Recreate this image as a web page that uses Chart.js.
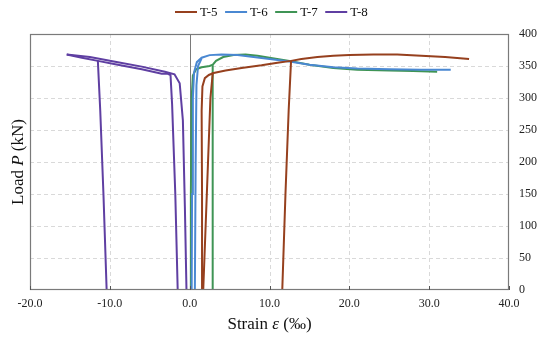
<!DOCTYPE html>
<html>
<head>
<meta charset="utf-8">
<script src="https://cdn.jsdelivr.net/npm/chart.js@4.4.1/dist/chart.umd.min.js"></script>
<style>
  html, body { margin: 0; padding: 0; background: #fff; }
  #wrap { width: 550px; height: 339px; }
</style>
</head>
<body>
<div id="wrap"><canvas id="c" width="550" height="339"></canvas></div>
<script>
// ---- Tick labels ----
const xTicks = [-20, -10, 0, 10, 20, 30, 40];
const yTicks = [0, 50, 100, 150, 200, 250, 300, 350, 400];

// ---- Series (strain in ‰, load in kN) ----
const seriesNames = ['T-5', 'T-6', 'T-7', 'T-8'];

// T-5 (three gauge traces)
const t5aStrain = [1.66, 1.55, 1.5, 1.6, 1.9, 2.4, 3.0, 4.5, 6.5, 9.0, 11.0, 12.7, 14, 16, 18, 20, 23, 26, 29, 32, 35];
const t5aLoad   = [0, 150, 280, 318, 331, 336, 339, 343, 347, 351, 355, 358, 361, 364, 366, 367, 368, 368, 366, 364, 361];
const t5bStrain = [1.7, 2.3, 2.6, 2.9];
const t5bLoad   = [0, 200, 300, 340];
const t5cStrain = [11.6, 12.0, 12.4, 12.7];
const t5cLoad   = [0, 150, 280, 358];

// T-6
const t6aStrain = [0.25, 0.3, 0.4, 0.55, 0.9, 1.5, 2.5, 4, 6, 8, 10, 12.5, 15, 18, 21, 25, 29, 32.7];
const t6aLoad   = [0, 150, 300, 340, 356, 363, 367, 368, 367, 364, 361, 357, 352, 348, 346, 345, 344, 344];
const t6bStrain = [0.65, 0.75, 0.85, 1.05, 1.5];
const t6bLoad   = [0, 200, 320, 350, 362];

// T-7
const t7aStrain = [0.1, 0.15, 0.25, 0.4, 0.8, 1.5, 2.5, 2.9, 3.3, 4.2, 5.5, 7, 8.5, 10, 12.5, 15, 18, 21, 25, 28, 31];
const t7aLoad   = [0, 150, 300, 335, 345, 348, 350, 352, 358, 364, 367, 368, 366, 363, 358, 352, 347, 344, 343, 342, 341];
const t7bStrain = [2.8, 2.85, 2.9, 2.9];
const t7bLoad   = [0, 200, 320, 351];

// T-8
const t8aStrain = [-0.4, -0.6, -0.85, -1.25, -1.9, -3.1, -6, -9, -12.5, -15.4];
const t8aLoad   = [0, 130, 265, 323, 337, 341, 349, 356, 364, 368];
const t8bStrain = [-1.5, -1.8, -2.2, -2.4, -2.8, -3.5, -6, -9, -11.5, -13.5, -15.4];
const t8bLoad   = [0, 150, 290, 336, 338, 338, 345, 352, 358, 363, 368];
const t8cStrain = [-10.4, -10.8, -11.2, -11.5];
const t8cLoad   = [0, 150, 280, 358];

const colors = ['#96401E', '#4A88D2', '#3F9455', '#5F3FA2'];

function pts(xs, ys) { return xs.map((x, i) => ({ x: x, y: ys[i] })); }

const traces = [
  [0, t5aStrain, t5aLoad], [0, t5bStrain, t5bLoad], [0, t5cStrain, t5cLoad],
  [1, t6aStrain, t6aLoad], [1, t6bStrain, t6bLoad],
  [2, t7aStrain, t7aLoad], [2, t7bStrain, t7bLoad],
  [3, t8aStrain, t8aLoad], [3, t8bStrain, t8bLoad], [3, t8cStrain, t8cLoad]
];

const datasets = traces.map(([s, xs, ys]) => ({
  label: seriesNames[s],
  data: pts(xs, ys),
  showLine: true,
  borderColor: colors[s],
  backgroundColor: colors[s],
  borderWidth: 2,
  pointRadius: 0,
  tension: 0,
  fill: false
}));

const FONT = "'Liberation Serif', 'Times New Roman', serif";

const framePlugin = {
  id: 'frame',
  beforeDatasetsDraw(chart) {
    const { ctx, chartArea: a, scales: { x, y } } = chart;
    ctx.save();
    ctx.lineWidth = 1;
    ctx.strokeStyle = '#d9d9d9';
    ctx.setLineDash([4, 3]);
    xTicks.forEach(v => {
      if (v === 0 || v === xTicks[0] || v === xTicks[xTicks.length - 1]) return;
      const px = Math.round(x.getPixelForValue(v)) + 0.5;
      ctx.beginPath(); ctx.moveTo(px, a.top); ctx.lineTo(px, a.bottom); ctx.stroke();
    });
    yTicks.forEach(v => {
      if (v === yTicks[0] || v === yTicks[yTicks.length - 1]) return;
      const py = Math.round(y.getPixelForValue(v)) + 0.5;
      ctx.beginPath(); ctx.moveTo(a.left, py); ctx.lineTo(a.right, py); ctx.stroke();
    });
    ctx.setLineDash([]);
    ctx.strokeStyle = '#7a7a7a';
    const zx = Math.round(x.getPixelForValue(0)) + 0.5;
    ctx.beginPath(); ctx.moveTo(zx, a.top); ctx.lineTo(zx, a.bottom); ctx.stroke();
    ctx.restore();
  },
  afterDatasetsDraw(chart) {
    const { ctx, chartArea: a, scales: { x } } = chart;
    ctx.save();
    ctx.strokeStyle = '#7a7a7a';
    ctx.lineWidth = 1.2;
    ctx.strokeRect(a.left + 0.5, a.top + 0.5, a.right - a.left - 1, a.bottom - a.top - 1);
    ctx.lineWidth = 1;
    ctx.strokeStyle = '#555';
    xTicks.forEach(v => {
      const px = Math.round(x.getPixelForValue(v)) + 0.5;
      ctx.beginPath(); ctx.moveTo(px, a.bottom); ctx.lineTo(px, a.bottom - 4); ctx.stroke();
    });
    ctx.restore();
  },
  afterDraw(chart) {
    const { ctx, chartArea: a } = chart;
    ctx.save();
    ctx.fillStyle = '#111';
    ctx.textBaseline = 'middle';
    // x-axis title with italic epsilon
    const parts = [["Strain ", false], ["ε", true], [" (‰)", false]];
    const fsz = 17;
    let total = 0;
    parts.forEach(([t, it]) => { ctx.font = (it ? 'italic ' : '') + fsz + 'px ' + FONT; total += ctx.measureText(t).width; });
    let cx = (a.left + a.right) / 2 - total / 2;
    ctx.textAlign = 'left';
    parts.forEach(([t, it]) => { ctx.font = (it ? 'italic ' : '') + fsz + 'px ' + FONT; ctx.fillText(t, cx, 325); cx += ctx.measureText(t).width; });
    // y-axis title
    const yparts = [["Load ", false], ["P", true], [" (kN)", false]];
    total = 0;
    yparts.forEach(([t, it]) => { ctx.font = (it ? 'italic ' : '') + fsz + 'px ' + FONT; total += ctx.measureText(t).width; });
    ctx.translate(19, (a.top + a.bottom) / 2);
    ctx.rotate(-Math.PI / 2);
    cx = -total / 2;
    yparts.forEach(([t, it]) => { ctx.font = (it ? 'italic ' : '') + fsz + 'px ' + FONT; ctx.fillText(t, cx, 0); cx += ctx.measureText(t).width; });
    ctx.restore();
    // legend
    ctx.save();
    ctx.font = '13px ' + FONT;
    ctx.textBaseline = 'middle';
    ctx.textAlign = 'left';
    let lx = 175;
    const ly = 12;
    seriesNames.forEach((n, i) => {
      ctx.strokeStyle = colors[i];
      ctx.lineWidth = 2;
      ctx.beginPath(); ctx.moveTo(lx, ly); ctx.lineTo(lx + 22, ly); ctx.stroke();
      ctx.fillStyle = '#111';
      ctx.fillText(n, lx + 25, ly + 0.5);
      lx += 25 + ctx.measureText(n).width + 7.5;
    });
    ctx.restore();
  }
};

new Chart(document.getElementById('c'), {
  type: 'scatter',
  data: { datasets },
  options: {
    responsive: false,
    animation: false,
    layout: { padding: { left: 30, top: 34, right: 0, bottom: 0 } },
    plugins: { legend: { display: false }, tooltip: { enabled: false } },
    scales: {
      x: {
        type: 'linear', min: -20, max: 40,
        afterBuildTicks: s => { s.ticks = xTicks.map(v => ({ value: v })); },
        afterFit: s => { s.height = 49; },
        grid: { display: false, drawTicks: false },
        border: { display: false },
        ticks: { padding: 7, color: '#222', font: { family: FONT, size: 12 }, callback: v => Number(v).toFixed(1), maxRotation: 0 }
      },
      y: {
        type: 'linear', position: 'right', min: 0, max: 400,
        afterBuildTicks: s => { s.ticks = yTicks.map(v => ({ value: v })); },
        afterFit: s => { s.width = 41; },
        grid: { display: false, drawTicks: false },
        border: { display: false },
        ticks: { padding: 10, color: '#222', font: { family: FONT, size: 12 } }
      }
    }
  },
  plugins: [framePlugin]
});
</script>
</body>
</html>
